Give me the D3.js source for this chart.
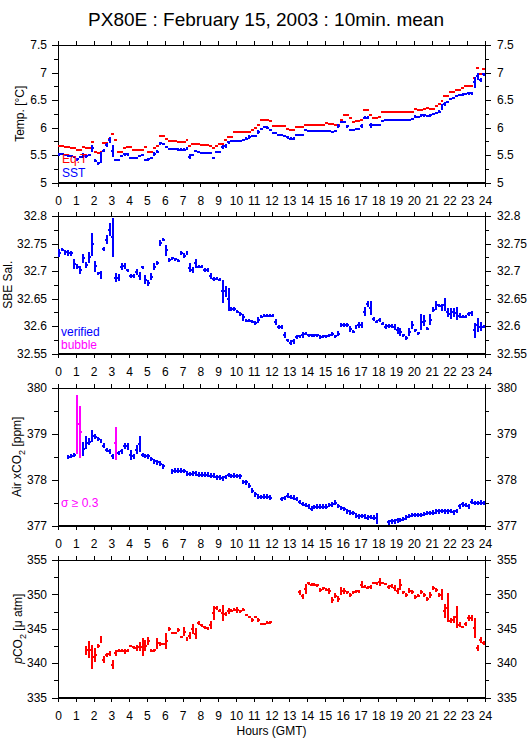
<!DOCTYPE html>
<html lang="en">
<head>
<meta charset="UTF-8">
<title>PX80E : February 15, 2003 : 10min. mean</title>
<script src="https://d3js.org/d3.v7.min.js"></script>
<style>
body { margin: 0; background: #fff; }
svg text { font-family: "Liberation Sans", Arial, sans-serif; font-size: 12px; }
.axis path, .axis line { stroke: #000; stroke-width: 1; shape-rendering: crispEdges; }
.axis text { fill: #000; }
.mark { shape-rendering: crispEdges; }
</style>
</head>
<body>
<div id="chart"></div>
<script>
// 10 minute means, one value per bin (144 bins = 24 h), null = no data
var binMinutes = 10;
var hourTicks = [0,1,2,3,4,5,6,7,8,9,10,11,12,13,14,15,16,17,18,19,20,21,22,23,24];

var eqT = [
  5.66,5.66,5.64,5.64,5.62,5.62, 5.59,5.59,5.65,5.62,5.63,5.74,
  5.56,5.53,5.55,5.71,5.71,5.80, 5.89,5.77,5.55,5.55,5.62,5.65,
  5.65,5.59,5.60,5.60,5.60,5.65, 5.56,5.56,5.62,5.66,5.84,5.84,
  5.80,5.75,5.75,5.75,5.74,5.74, 5.74,5.77,5.66,5.70,5.70,5.70,
  5.68,5.68,5.68,5.66,5.62,5.66, 5.70,5.70,5.78,5.83,5.83,5.91,
  5.91,5.91,5.91,5.92,5.92,5.96, 5.99,6.04,6.13,6.13,6.13,6.11,
  6.02,6.02,6.02,6.02,6.02,5.98, 5.95,5.95,6.01,6.01,6.01,6.05,
  6.05,6.05,6.05,6.05,6.05,6.05, 6.08,6.07,6.07,6.05,6.05,6.14,
  6.23,6.23,6.18,6.10,6.11,6.11, 6.14,6.31,6.31,6.22,6.18,6.18,
  6.20,6.28,6.28,6.28,6.28,6.28, 6.28,6.28,6.28,6.28,6.28,6.28,
  6.34,6.31,6.31,6.34,6.36,6.34, 6.34,6.39,6.42,6.48,6.57,6.57,
  6.65,6.65,6.69,6.69,6.72,6.75, 6.75,6.75,6.90,7.09,6.98,7.06
];
var sst = [
  5.51,5.52,5.50,5.49,5.48,5.47, 5.42,5.47,5.49,5.48,5.50,5.62,
  5.40,5.35,5.45,5.58,5.68,5.77, 5.58,5.41,5.41,5.48,5.51,5.51,
  5.45,5.44,5.45,5.48,5.50,5.41, 5.42,5.45,5.52,5.56,5.71,5.70,
  5.64,5.61,5.61,5.61,5.60,5.60, 5.60,5.62,5.47,5.50,5.58,5.55,
  5.54,5.54,5.54,5.53,5.45,5.55, 5.55,5.65,5.66,5.73,5.76,5.76,
  5.76,5.76,5.78,5.80,5.83,5.85, 5.85,5.92,5.98,6.01,6.00,5.96,
  5.90,5.90,5.87,5.87,5.85,5.82, 5.80,5.80,5.87,5.87,5.87,5.95,
  5.93,5.93,5.93,5.93,5.94,5.94, 5.94,5.93,5.92,5.94,6.03,6.10,
  6.10,6.02,5.95,5.96,5.98,5.98, 6.03,6.18,6.18,6.04,6.04,6.04,
  6.05,6.12,6.13,6.13,6.13,6.13, 6.13,6.13,6.13,6.13,6.14,6.16,
  6.20,6.19,6.22,6.22,6.21,6.22, 6.24,6.27,6.29,6.37,6.43,6.46,
  6.52,6.53,6.58,6.59,6.60,6.61, 6.62,6.62,6.82,6.93,6.86,6.97
];
// SST standard deviation, 1/100 degC
var sstErr = [
  2,2,2,2,2,2,2,2,4,3,2,7,  2,3,10,3,3,6,11,2,2,2,2,2,
  2,2,2,2,2,2,2,2,4,3,2,2,  2,2,2,2,2,3,3,3,4,2,2,2,
  2,2,2,2,2,2,2,4,4,3,2,2,  2,2,2,2,3,2,2,4,2,2,2,2,
  2,2,2,2,2,2,2,2,2,2,2,2,  2,2,2,2,2,2,2,2,2,2,3,2,
  2,3,2,2,2,2,4,3,3,4,2,2,  2,2,2,2,2,2,2,2,2,2,2,2,
  2,2,2,2,2,2,2,2,2,5,4,2,  2,2,2,2,2,2,2,2,10,7,4,3
];

var sal = [
  32.733,32.739,32.734,32.733,32.732,32.712,32.708,32.702,32.723,32.711,32.725,32.749,
  32.709,32.696,32.693,32.740,32.757,32.775,32.761,32.688,32.688,32.708,32.709,32.701,
  32.691,32.691,32.698,32.691,32.707,32.684,32.678,32.690,32.708,32.715,32.751,32.757,
  32.738,32.720,32.723,32.721,32.719,32.733,32.728,32.733,32.706,32.702,32.714,32.708,
  32.708,32.702,32.702,32.691,32.685,32.686,32.684,32.663,32.663,32.649,32.631,32.631,
  32.626,32.622,32.616,32.610,32.610,32.608,32.605,32.611,32.617,32.619,32.619,32.619,
  32.619,32.607,32.598,32.598,32.584,32.574,32.570,32.572,32.580,32.581,32.584,32.586,
  32.583,32.583,32.583,32.583,32.580,32.581,32.581,32.583,32.586,32.581,32.586,32.602,
  32.602,32.602,32.595,32.590,32.598,32.602,32.602,32.626,32.640,32.633,32.613,32.608,
  32.611,32.604,32.599,32.600,32.600,32.598,32.592,32.589,32.583,32.578,32.589,32.602,
  32.592,32.587,32.607,32.610,32.595,32.611,32.630,32.638,32.637,32.634,32.639,32.625,
  32.622,32.625,32.623,32.619,32.617,32.617,32.622,32.623,32.592,32.602,32.599,32.599
];
// salinity standard deviation, 1/1000
var salErr = [
  7,3,4,5,5,9,5,8,8,5,10,21,   10,3,7,4,8,12,36,8,6,6,6,3,
  3,3,6,8,3,8,5,6,6,4,6,3,     10,3,3,3,3,3,4,3,8,6,8,3,
  3,3,3,5,4,3,3,21,10,21,3,3,  3,3,6,3,3,3,4,5,3,3,3,3,
  3,6,4,3,5,3,4,4,3,3,5,3,     3,3,3,3,3,3,3,3,4,3,5,4,
  4,3,5,3,3,5,5,8,5,13,3,3,    3,3,4,4,4,6,7,7,3,3,8,8,
  3,3,15,10,3,10,5,8,3,6,12,8, 10,8,12,4,3,3,3,5,14,12,8,3
];

var airCO2 = [
  null,null,null,378.49,378.51,378.54,379.21,379.04,378.67,378.81,378.83,378.96,
  378.94,378.89,378.84,378.74,378.65,378.62,378.51,378.80,378.58,378.62,378.74,378.73,
  378.54,378.51,378.65,378.78,378.54,378.52,378.51,378.45,378.40,378.38,378.35,378.29,
  null,null,378.18,378.20,378.20,378.20,378.19,378.14,378.12,378.13,378.14,378.11,
  378.11,378.11,378.11,378.09,378.09,378.05,378.05,378.03,378.06,378.10,378.08,378.09,
  378.08,378.07,377.95,377.94,377.87,377.76,377.68,377.63,377.62,377.63,377.63,377.61,
  null,null,null,377.58,377.60,377.65,377.62,377.61,377.58,377.51,377.47,377.45,
  377.42,377.37,377.40,377.41,377.41,377.41,377.41,377.45,377.46,377.50,377.43,377.38,
  377.36,377.31,377.28,377.27,377.22,377.20,377.21,377.20,377.17,377.19,377.17,377.16,
  null,null,null,377.07,377.09,377.09,377.11,377.12,377.14,377.18,377.21,377.23,
  377.23,377.23,377.23,377.25,377.27,377.27,377.28,377.31,377.31,377.32,377.31,377.31,
  377.32,377.29,377.32,377.42,377.46,377.45,377.42,377.52,377.49,377.49,377.50,377.49
];
// air xCO2 standard deviation, ppm
var airErr = [
  0,0,0,.04,.04,.04,.64,.56,.15,.15,.08,.13,  .05,.05,.05,.05,.05,.05,.05,.36,.05,.05,.07,.08,
  .10,.05,.10,.18,.05,.05,.05,.05,.05,.05,.05,.05,  0,0,.05,.05,.05,.05,.05,.05,.05,.05,.05,.05,
  .05,.05,.05,.05,.05,.05,.05,.05,.05,.05,.05,.05,  .05,.05,.05,.05,.05,.05,.05,.05,.05,.05,.05,.05,
  0,0,0,.05,.05,.05,.05,.05,.05,.05,.05,.05,  .05,.05,.05,.05,.05,.05,.05,.05,.05,.05,.05,.05,
  .05,.05,.05,.05,.05,.05,.05,.05,.05,.05,.05,.12,  0,0,0,.05,.05,.05,.05,.05,.05,.05,.05,.05,
  .05,.05,.05,.05,.05,.05,.05,.05,.05,.05,.05,.05,  .05,.05,.05,.05,.05,.05,.05,.05,.05,.05,.05,.05
];

var pco2 = [
  null,null,null,null,null,null,null,null,null,341.86,341.96,340.90,
  341.20,342.54,343.40,340.50,341.20,341.40,339.80,341.50,341.80,341.80,341.70,341.80,
  342.50,342.30,342.20,342.40,342.40,342.50,343.20,341.80,341.85,342.90,342.80,342.80,
  343.20,344.95,344.40,344.40,344.76,343.80,344.60,343.50,344.00,344.95,344.30,345.80,
  345.50,345.20,345.05,345.50,347.30,348.00,347.65,347.30,347.20,347.60,347.65,347.75,
  347.70,347.55,347.75,347.00,346.70,346.30,346.70,346.30,345.70,345.70,345.90,345.95,
  null,null,null,null,null,null,null,null,null,350.30,349.70,350.80,
  351.60,351.40,351.40,351.30,350.70,350.90,350.70,350.46,349.20,349.83,349.35,350.46,
  350.46,350.30,349.90,350.30,350.40,350.46,351.40,351.10,351.00,351.10,351.67,351.60,
  351.76,351.67,351.50,351.10,351.26,350.94,350.46,351.40,350.30,349.90,350.55,350.40,
  349.60,349.80,350.30,349.90,349.35,349.90,350.90,350.70,349.95,349.95,347.56,348.04,
  346.20,346.30,346.70,345.60,345.24,345.63,346.60,346.60,345.10,342.20,343.40,342.97
];
// pCO2 standard deviation, uatm
var pco2Err = [
  0,0,0,0,0,0,0,0,0,.7,1.2,1.7,  1.0,.3,.5,.5,.3,.3,.7,.4,.2,.2,.4,.2,
  .2,.2,.4,.7,1.3,.8,.6,.2,.2,.8,.3,.2,  1.2,.3,.2,.2,.3,.2,.6,.3,.5,.7,.8,.3,
  .2,.2,.2,.6,1.0,.3,.2,1.2,.3,.4,.2,.2,  .4,.2,.2,.2,.2,.3,.2,.3,.2,.2,.2,.2,
  0,0,0,0,0,0,0,0,0,.4,.4,.7,  .2,.2,.2,.2,.3,.2,.2,.4,.4,.3,.4,.6,
  .4,.2,.3,.2,.2,.2,.5,.2,.2,.3,.2,.2,  .6,.2,.2,.3,.3,.4,.4,.8,.2,.3,.4,.3,
  .3,.2,.3,.3,.3,.4,.3,.3,.3,.8,1.0,2.1,  .4,.5,1.6,.4,.2,.3,.4,.4,1.4,.4,.4,.3
];

// y tick values (major / minor)
var tempTicks = [5, 5.5, 6, 6.5, 7, 7.5];
var tempMinor = [5.25, 5.75, 6.25, 6.75, 7.25];
var salTicks = [32.55, 32.6, 32.65, 32.7, 32.75, 32.8];
var salMinor = [32.575, 32.625, 32.675, 32.725, 32.775];
var airTicks = [377, 378, 379, 380];
var airMinor = [377.5, 378.5, 379.5];
var pco2Ticks = [335, 340, 345, 350, 355];
var pco2Minor = [337.5, 342.5, 347.5, 352.5];

var W = 529, H = 739;
var left = 58, right = 485, panelH = 137.5;
var panelTops = [45, 216, 388, 560];

var svg = d3.select("#chart").append("svg").attr("width", W).attr("height", H);

var x = d3.scaleLinear().domain([0, 24]).range([left, right]);
var binH = binMinutes / 60;

svg.append("text")
  .attr("x", 266).attr("y", 26)
  .attr("text-anchor", "middle")
  .style("font-size", "19px")
  .text("PX80E : February 15, 2003 : 10min. mean");

function fmt(d) { return String(+d.toFixed(3)); }

function drawPanel(top, domain, ticks, minor, labelX, labelFn) {
  var y = d3.scaleLinear().domain(domain).range([top + panelH, top]);
  var g = svg.append("g");

  g.append("g").attr("class", "axis")
    .attr("transform", "translate(" + left + ",0)")
    .call(d3.axisLeft(y).tickValues(ticks).tickSize(6).tickSizeOuter(0).tickPadding(5).tickFormat(fmt));
  g.append("g").attr("class", "axis")
    .attr("transform", "translate(" + left + ",0)")
    .call(d3.axisLeft(y).tickValues(minor).tickSize(4).tickSizeOuter(0).tickFormat(""));
  g.append("g").attr("class", "axis")
    .attr("transform", "translate(" + right + ",0)")
    .call(d3.axisRight(y).tickValues(ticks).tickSize(6).tickSizeOuter(0).tickPadding(6).tickFormat(fmt));
  g.append("g").attr("class", "axis")
    .attr("transform", "translate(" + right + ",0)")
    .call(d3.axisRight(y).tickValues(minor).tickSize(4).tickSizeOuter(0).tickFormat(""));
  g.append("g").attr("class", "axis")
    .attr("transform", "translate(0," + top + ")")
    .call(d3.axisTop(x).tickValues(hourTicks).tickSize(4).tickSizeOuter(0).tickFormat(""));
  g.append("g").attr("class", "axis")
    .attr("transform", "translate(0," + (top + panelH) + ")")
    .call(d3.axisBottom(x).tickValues(hourTicks).tickSize(4).tickSizeOuter(0).tickPadding(10));

  g.selectAll(".axis text").style("font-size", "12px");

  var lab = g.append("text")
    .attr("transform", "translate(" + labelX + "," + (top + panelH / 2) + ") rotate(-90)")
    .attr("text-anchor", "middle");
  labelFn(lab);
  return { g: g, y: y };
}

function drawMarks(p, vals, errs, unit, colorFn, showErr) {
  var recs = [];
  vals.forEach(function(v, i) {
    if (v == null) return;
    recs.push({ t: i * binH, v: v, e: errs ? errs[i] * unit : 0, i: i });
  });
  var mg = p.g.append("g");
  mg.selectAll("line.h").data(recs).join("line")
    .attr("class", "mark h")
    .attr("x1", function(d) { return x(d.t); })
    .attr("x2", function(d) { return x(d.t + binH); })
    .attr("y1", function(d) { return p.y(d.v); })
    .attr("y2", function(d) { return p.y(d.v); })
    .attr("stroke", colorFn).attr("stroke-width", 2);
  if (!showErr) return;
  mg.selectAll("line.v").data(recs).join("line")
    .attr("class", "mark v")
    .attr("x1", function(d) { return x(d.t + binH / 2); })
    .attr("x2", function(d) { return x(d.t + binH / 2); })
    .attr("y1", function(d) { return p.y(d.v - d.e); })
    .attr("y2", function(d) { return p.y(d.v + d.e); })
    .attr("stroke", colorFn).attr("stroke-width", 2);
}

function legend(p, xPos, yPos, color, label) {
  p.g.append("text").attr("x", xPos).attr("y", yPos).style("fill", color).text(label);
}

// frames
panelTops.forEach(function(t) {
  svg.append("rect").attr("x", left).attr("y", t).attr("width", right - left).attr("height", panelH)
    .attr("fill", "none").attr("stroke", "#000").style("shape-rendering", "crispEdges");
});

// panel 1: temperatures
var p1 = drawPanel(panelTops[0], [5, 7.5], tempTicks, tempMinor, 24, function(t) { t.text("Temp. [°C]"); });
drawMarks(p1, eqT, null, 0, function() { return "#ff0000"; }, false);
drawMarks(p1, sst, sstErr, 0.01, function() { return "#0000ff"; }, true);
legend(p1, 62, 163, "#ff0000", "Eq.T");
legend(p1, 62, 177, "#0000ff", "SST");

// panel 2: salinity
var p2 = drawPanel(panelTops[1], [32.55, 32.8], salTicks, salMinor, 12, function(t) { t.text("SBE Sal."); });
drawMarks(p2, sal, salErr, 0.001, function() { return "#0000ff"; }, true);
legend(p2, 61, 336, "#0000ff", "verified");
legend(p2, 61, 349, "#ff00ff", "bubble");

// panel 3: air xCO2
var p3 = drawPanel(panelTops[2], [377, 380], airTicks, airMinor, 21, function(t) {
  t.append("tspan").text("Air xCO");
  t.append("tspan").attr("dy", 4).style("font-size", "9px").text("2");
  t.append("tspan").attr("dy", -4).text(" [ppm]");
});
drawMarks(p3, airCO2, airErr, 1, function(d) { return d.e >= 0.3 ? "#ff00ff" : "#0000ff"; }, true);
legend(p3, 61, 507, "#ff00ff", "σ ≥ 0.3");

// panel 4: pCO2
var p4 = drawPanel(panelTops[3], [335, 355], pco2Ticks, pco2Minor, 22, function(t) {
  t.append("tspan").style("font-style", "italic").text("p");
  t.append("tspan").text("CO");
  t.append("tspan").attr("dy", 4).style("font-size", "9px").text("2");
  t.append("tspan").attr("dy", -4).text(" [μ atm]");
});
drawMarks(p4, pco2, pco2Err, 1, function() { return "#ff0000"; }, true);

svg.append("text")
  .attr("x", (left + right) / 2).attr("y", 735)
  .attr("text-anchor", "middle")
  .text("Hours (GMT)");
</script>
</body>
</html>
